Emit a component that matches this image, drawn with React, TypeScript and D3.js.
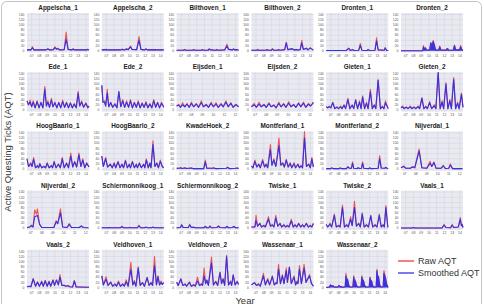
import * as d3 from "d3";

// [year, raw AQT, smoothed AQT]
type Pt = [number, number, number];

const appelscha1: Pt[] = [[2006.4,3,3],[2006.9,3,3],[2007.1,15,11],[2007.3,3,3],[2008.8,3,3],[2009.1,8,7],[2009.3,3,3],[2009.8,4,4],[2010.0,15,12],[2010.2,6,6],[2010.4,10,8],[2010.6,3,3],[2011.2,4,4],[2011.45,72,45],[2011.7,5,5],[2012.2,3,3],[2012.35,8,6],[2012.5,3,3],[2013.4,3,3],[2013.5,5,4],[2013.7,3,3],[2014.1,3,3],[2014.2,6,5],[2014.4,3,3]];
const appelscha2: Pt[] = [[2006.4,3,3],[2007.0,5,4],[2007.2,3,3],[2008.8,3,3],[2009.0,6,5],[2009.3,3,3],[2009.6,8,6],[2009.8,4,4],[2010.1,18,15],[2010.3,5,5],[2010.9,4,4],[2011.2,55,40],[2011.45,5,5],[2011.9,3,3],[2012.1,8,6],[2012.3,3,3],[2013.3,4,4],[2013.5,3,3],[2014.4,3,3]];
const bilthoven1: Pt[] = [[2006.4,2,2],[2007.3,2,2],[2007.4,5,4],[2007.6,2,2],[2008.5,2,2],[2008.6,5,4],[2008.8,2,2],[2009.6,2,2],[2009.7,5,4],[2009.9,2,2],[2010.5,2,2],[2010.6,8,6],[2010.8,3,3],[2011.5,2,2],[2011.6,5,4],[2011.8,2,2],[2012.6,3,3],[2012.9,25,18],[2013.1,6,5],[2013.6,3,3],[2013.75,8,6],[2013.9,3,3],[2014.2,5,4],[2014.4,2,2]];
const bilthoven2: Pt[] = [[2006.4,2,2],[2007.1,2,2],[2007.2,5,4],[2007.4,2,2],[2008.3,2,2],[2008.4,5,4],[2008.6,2,2],[2009.0,2,2],[2009.1,8,6],[2009.3,2,2],[2009.8,2,2],[2009.9,5,4],[2010.1,2,2],[2010.7,4,4],[2010.9,33,30],[2011.1,4,4],[2011.7,8,7],[2011.9,3,3],[2012.2,5,4],[2012.4,3,3],[2012.7,4,4],[2012.9,40,30],[2013.1,5,5],[2013.5,10,9],[2013.7,3,3],[2014.0,12,10],[2014.3,4,4],[2014.4,3,3]];
const dronten1: Pt[] = [[2006.4,1,1],[2009.0,1,1],[2009.3,10,9],[2009.5,1,1],[2009.8,5,4],[2010.0,1,1],[2010.6,2,2],[2010.8,28,20],[2011.0,2,2],[2011.7,1,1],[2011.8,5,4],[2012.0,1,1],[2012.7,2,2],[2012.9,50,38],[2013.1,3,3],[2013.9,2,2],[2014.0,12,10],[2014.2,1,1],[2014.4,1,1]];
const dronten2: Pt[] = [[2006.4,0,0],[2009.2,0,0],[2009.3,20,15],[2009.45,3,3],[2009.55,12,10],[2009.7,2,2],[2010.1,3,3],[2010.25,32,30],[2010.4,18,15],[2010.55,40,35],[2010.7,25,22],[2010.85,3,3],[2011.25,2,2],[2011.4,18,15],[2011.55,3,3],[2012.2,2,2],[2012.3,8,6],[2012.45,8,6],[2012.55,2,2],[2013.15,2,2],[2013.3,22,20],[2013.45,3,3],[2013.95,3,3],[2014.1,20,15],[2014.25,4,4],[2014.4,2,2]];
const ede1: Pt[] = [[2006.4,35,35],[2006.6,20,20],[2006.8,38,30],[2007.0,12,12],[2007.2,35,30],[2007.45,8,8],[2007.7,35,32],[2007.95,8,8],[2008.2,30,28],[2008.45,8,8],[2008.7,90,80],[2008.9,15,15],[2009.1,35,30],[2009.3,10,10],[2009.55,45,38],[2009.75,12,12],[2010.0,30,28],[2010.25,8,8],[2010.5,30,28],[2010.75,8,8],[2011.0,38,32],[2011.25,10,10],[2011.5,30,28],[2011.75,8,8],[2012.0,28,26],[2012.25,8,8],[2012.5,25,22],[2012.75,8,8],[2013.0,72,65],[2013.2,15,15],[2013.45,35,30],[2013.7,10,10],[2014.0,28,25],[2014.25,8,8],[2014.4,15,15]];
const ede2: Pt[] = [[2006.4,95,95],[2006.55,30,30],[2006.75,35,30],[2006.9,15,15],[2007.1,80,65],[2007.3,12,12],[2007.55,30,28],[2007.8,10,10],[2008.1,25,22],[2008.35,8,8],[2008.6,72,70],[2008.85,12,12],[2009.1,40,35],[2009.35,10,10],[2009.6,35,30],[2009.85,10,10],[2010.1,40,35],[2010.35,8,8],[2010.6,30,28],[2010.85,10,10],[2011.1,35,30],[2011.35,8,8],[2011.6,28,25],[2011.85,10,10],[2012.1,32,28],[2012.35,8,8],[2012.6,25,22],[2012.85,8,8],[2013.1,40,35],[2013.35,10,10],[2013.6,30,28],[2013.85,8,8],[2014.1,30,25],[2014.4,10,10]];
const eijsden1: Pt[] = [[2006.65,15,15],[2006.85,22,18],[2007.0,10,10],[2007.2,28,20],[2007.4,12,12],[2007.6,25,22],[2007.8,10,10],[2008.0,30,25],[2008.2,12,12],[2008.45,25,22],[2008.65,10,10],[2008.9,35,28],[2009.1,12,12],[2009.35,22,20],[2009.55,10,10],[2009.8,30,25],[2010.0,12,12],[2010.25,28,22],[2010.45,10,10],[2010.7,25,22],[2010.9,12,12],[2011.15,35,30],[2011.35,12,12],[2011.6,28,25],[2011.8,10,10],[2012.05,22,20],[2012.3,12,12]];
const eijsden2: Pt[] = [[2006.65,12,12],[2006.9,25,20],[2007.1,10,10],[2007.35,30,22],[2007.55,12,12],[2007.8,22,20],[2008.0,10,10],[2008.25,28,24],[2008.45,12,12],[2008.7,20,18],[2008.9,8,8],[2009.15,30,25],[2009.35,12,12],[2009.6,25,22],[2009.8,10,10],[2010.05,32,26],[2010.25,12,12],[2010.5,22,20],[2010.7,10,10],[2010.95,28,25],[2011.15,12,12],[2011.4,30,26],[2011.6,10,10],[2011.85,25,22],[2012.05,15,15],[2012.3,30,28]];
const gieten1: Pt[] = [[2006.4,12,12],[2006.6,8,8],[2006.8,15,12],[2007.0,8,8],[2007.25,30,28],[2007.5,5,5],[2007.8,12,10],[2008.0,5,5],[2008.25,15,12],[2008.45,5,5],[2008.7,20,18],[2008.9,5,5],[2009.2,45,40],[2009.45,5,5],[2009.75,20,18],[2009.95,5,5],[2010.2,40,38],[2010.45,5,5],[2010.7,35,30],[2010.9,5,5],[2011.1,55,50],[2011.35,5,5],[2011.6,30,25],[2011.8,5,5],[2012.1,80,70],[2012.35,5,5],[2012.6,20,18],[2012.8,5,5],[2013.1,118,115],[2013.4,5,5],[2013.65,15,12],[2013.85,5,5],[2014.05,35,28],[2014.25,15,15],[2014.4,5,5]];
const gieten2: Pt[] = [[2006.4,8,8],[2006.6,15,12],[2006.8,5,5],[2007.1,12,10],[2007.3,5,5],[2007.6,15,12],[2007.8,5,5],[2008.1,12,10],[2008.3,5,5],[2008.6,15,12],[2008.8,5,5],[2009.1,48,45],[2009.35,5,5],[2009.6,15,12],[2009.8,5,5],[2010.1,32,28],[2010.35,5,5],[2010.7,20,15],[2010.9,5,5],[2011.2,145,145],[2011.45,5,5],[2011.7,35,30],[2011.9,5,5],[2012.2,105,100],[2012.45,5,5],[2012.7,40,35],[2012.9,5,5],[2013.2,125,118],[2013.45,5,5],[2013.7,30,25],[2013.9,5,5],[2014.2,65,60],[2014.4,10,10]];
const hoogBaarlo1: Pt[] = [[2006.4,40,40],[2006.6,10,10],[2006.9,25,20],[2007.05,10,10],[2007.25,45,38],[2007.5,5,5],[2007.75,15,12],[2007.9,5,5],[2008.05,22,20],[2008.3,5,5],[2008.6,12,10],[2008.8,5,5],[2009.0,25,22],[2009.25,5,5],[2009.55,15,12],[2009.7,5,5],[2009.9,30,28],[2010.15,5,5],[2010.45,20,18],[2010.7,5,5],[2010.95,45,40],[2011.2,5,5],[2011.5,25,22],[2011.75,5,5],[2012.05,62,50],[2012.3,8,8],[2012.55,30,28],[2012.8,8,8],[2013.1,62,55],[2013.35,10,10],[2013.6,40,35],[2013.85,5,5],[2014.1,25,22],[2014.4,8,8]];
const hoogBaarlo2: Pt[] = [[2006.4,50,50],[2006.6,10,10],[2006.9,45,40],[2007.15,8,8],[2007.5,20,18],[2007.75,5,5],[2008.0,25,22],[2008.2,5,5],[2008.5,30,28],[2008.75,5,5],[2009.0,20,18],[2009.2,5,5],[2009.45,35,32],[2009.7,5,5],[2009.95,20,18],[2010.1,5,5],[2010.35,30,28],[2010.6,5,5],[2010.85,20,18],[2011.0,5,5],[2011.25,25,22],[2011.5,5,5],[2011.8,20,18],[2011.95,5,5],[2012.15,40,35],[2012.4,5,5],[2012.6,25,22],[2012.75,5,5],[2013.0,110,95],[2013.25,10,10],[2013.5,25,22],[2013.7,5,5],[2013.95,35,30],[2014.2,10,10],[2014.4,5,5]];
const kwadeHoek2: Pt[] = [[2006.4,3,3],[2006.8,3,3],[2006.9,6,5],[2007.1,2,2],[2007.5,5,4],[2007.7,2,2],[2008.3,4,4],[2008.5,2,2],[2009.9,2,2],[2010.1,35,28],[2010.3,3,3],[2011.0,3,3],[2011.2,5,4],[2011.4,2,2],[2012.8,3,3],[2013.0,8,6],[2013.2,2,2],[2014.0,3,3],[2014.2,4,4],[2014.4,2,2]];
const montferland1: Pt[] = [[2006.4,12,12],[2006.6,5,5],[2006.85,35,30],[2007.1,8,8],[2007.35,20,18],[2007.55,5,5],[2007.85,38,32],[2008.1,8,8],[2008.3,20,18],[2008.5,5,5],[2008.85,95,75],[2009.05,15,15],[2009.3,40,35],[2009.55,10,10],[2009.75,55,48],[2009.95,120,90],[2010.2,15,15],[2010.45,25,22],[2010.65,8,8],[2010.9,38,35],[2011.15,8,8],[2011.4,25,22],[2011.6,5,5],[2011.9,25,20],[2012.1,5,5],[2012.4,20,18],[2012.6,5,5],[2012.8,15,12],[2013.0,5,5],[2013.25,145,120],[2013.5,10,10],[2013.8,20,18],[2014.0,5,5],[2014.2,45,40],[2014.4,8,8]];
const montferland2: Pt[] = [[2006.4,2,2],[2007.0,2,2],[2007.1,5,4],[2007.3,2,2],[2008.1,2,2],[2008.2,4,4],[2008.4,2,2],[2009.0,2,2],[2009.2,10,8],[2009.4,3,3],[2009.65,3,3],[2009.8,28,22],[2009.95,3,3],[2010.4,2,2],[2010.5,6,5],[2010.7,2,2],[2010.95,3,3],[2011.1,28,22],[2011.25,3,3],[2011.9,2,2],[2012.0,5,4],[2012.2,2,2],[2013.1,3,3],[2013.3,52,40],[2013.5,4,4],[2013.95,3,3],[2014.1,8,6],[2014.25,3,3],[2014.4,2,2]];
const nijverdal1: Pt[] = [[2006.65,5,5],[2006.9,12,10],[2007.1,3,3],[2007.5,3,3],[2007.7,10,8],[2007.9,5,5],[2008.3,78,70],[2008.55,5,5],[2009.0,3,3],[2009.3,30,22],[2009.45,10,10],[2009.65,28,25],[2009.85,3,3],[2010.3,3,3],[2010.5,15,12],[2010.7,2,2],[2011.0,3,3],[2011.15,20,15],[2011.35,2,2],[2012.25,2,2]];
const nijverdal2: Pt[] = [[2006.65,3,3],[2006.9,5,5],[2007.05,12,10],[2007.2,5,5],[2007.35,72,45],[2007.5,55,48],[2007.6,75,50],[2007.8,15,15],[2008.0,3,3],[2009.1,3,3],[2009.3,30,25],[2009.45,18,18],[2009.7,75,60],[2009.9,5,5],[2010.3,3,3],[2010.5,18,15],[2010.7,3,3],[2011.4,3,3],[2011.6,10,8],[2011.8,3,3],[2012.25,2,2]];
const schiermonnikoog1: Pt[] = [[2006.4,2,2],[2007.2,2,2],[2007.35,3,3],[2007.5,2,2],[2008.8,2,2],[2009.0,8,6],[2009.2,2,2],[2009.9,2,2],[2010.0,4,3],[2010.2,2,2],[2011.0,2,2],[2011.2,12,10],[2011.4,2,2],[2011.9,2,2],[2012.1,5,4],[2012.3,2,2],[2012.8,2,2],[2013.0,5,4],[2013.2,2,2],[2014.4,2,2]];
const schiermonnikoog2: Pt[] = [[2006.4,2,2],[2006.9,3,3],[2007.05,15,13],[2007.25,3,3],[2007.9,3,3],[2008.1,15,13],[2008.3,3,3],[2008.6,5,4],[2008.8,2,2],[2009.9,2,2],[2010.1,8,7],[2010.3,2,2],[2010.55,2,2],[2010.7,10,8],[2010.9,2,2],[2011.6,3,3],[2011.8,10,8],[2012.0,3,3],[2012.7,2,2],[2012.9,8,7],[2013.1,2,2],[2013.6,3,3],[2013.8,8,7],[2014.0,2,2],[2014.4,2,2]];
const twiske1: Pt[] = [[2006.4,5,5],[2006.85,5,5],[2007.0,50,30],[2007.2,8,8],[2007.5,20,18],[2007.7,5,5],[2008.0,12,10],[2008.2,5,5],[2008.6,45,35],[2008.85,8,8],[2009.1,15,12],[2009.3,5,5],[2009.55,50,40],[2009.8,8,8],[2010.1,20,18],[2010.3,5,5],[2010.6,15,12],[2010.8,5,5],[2011.05,12,10],[2011.25,5,5],[2011.55,35,28],[2011.8,5,5],[2012.05,15,12],[2012.25,5,5],[2012.5,20,18],[2012.75,5,5],[2013.0,15,12],[2013.2,5,5],[2013.5,20,18],[2013.75,5,5],[2014.0,12,10],[2014.2,5,5],[2014.4,20,18]];
const twiske2: Pt[] = [[2006.4,15,15],[2006.6,5,5],[2006.9,20,15],[2007.1,5,5],[2007.45,55,50],[2007.7,5,5],[2008.0,12,10],[2008.2,5,5],[2008.5,90,80],[2008.75,5,5],[2009.05,15,12],[2009.25,5,5],[2009.55,45,35],[2009.75,10,10],[2010.05,105,80],[2010.3,8,8],[2010.6,20,18],[2010.8,5,5],[2011.05,60,55],[2011.3,5,5],[2011.6,15,12],[2011.85,5,5],[2012.15,50,48],[2012.4,5,5],[2012.7,15,12],[2012.95,5,5],[2013.25,55,50],[2013.5,5,5],[2013.75,15,12],[2013.9,5,5],[2014.1,88,80],[2014.35,5,5],[2014.4,5,5]];
const vaals1: Pt[] = [[2006.4,1,1],[2007.8,1,1],[2008.0,3,3],[2008.2,1,1],[2011.7,1,1],[2011.95,15,12],[2012.2,3,3],[2012.8,2,2],[2013.0,15,12],[2013.2,3,3],[2013.8,5,5],[2014.05,42,35],[2014.2,10,10],[2014.3,15,14],[2014.4,3,3]];
const vaals2: Pt[] = [[2006.4,3,3],[2006.7,5,5],[2006.9,3,3],[2007.2,35,33],[2007.5,5,5],[2007.75,22,20],[2008.0,5,5],[2008.3,25,22],[2008.5,5,5],[2008.75,28,25],[2009.0,5,5],[2009.25,25,22],[2009.45,5,5],[2009.75,30,28],[2009.95,8,8],[2010.2,30,28],[2010.45,10,10],[2010.65,50,40],[2010.9,8,8],[2011.2,10,8],[2011.4,5,5],[2011.7,8,7],[2011.9,3,3],[2012.3,2,2],[2012.5,28,25],[2012.75,2,2],[2013.0,2,2],[2014.4,1,1]];
const veldhoven1: Pt[] = [[2006.4,45,45],[2006.6,10,10],[2006.95,42,32],[2007.2,8,8],[2007.55,22,20],[2007.8,5,5],[2008.1,15,12],[2008.3,5,5],[2008.55,25,20],[2008.8,5,5],[2009.1,15,12],[2009.3,5,5],[2009.55,30,22],[2009.8,5,5],[2010.15,98,70],[2010.4,10,10],[2010.6,28,22],[2010.8,5,5],[2011.1,80,75],[2011.35,8,8],[2011.65,20,18],[2011.9,5,5],[2012.25,40,38],[2012.5,8,8],[2012.75,20,18],[2012.95,8,8],[2013.2,120,85],[2013.45,10,10],[2013.65,45,42],[2013.85,10,10],[2014.05,25,20],[2014.2,12,12],[2014.4,20,18]];
const veldhoven2: Pt[] = [[2006.4,20,20],[2006.6,8,8],[2006.95,35,32],[2007.2,8,8],[2007.5,15,12],[2007.7,5,5],[2008.05,22,20],[2008.3,5,5],[2008.6,12,10],[2008.8,5,5],[2009.1,40,25],[2009.35,8,8],[2009.6,15,12],[2009.75,8,8],[2009.95,75,45],[2010.15,15,15],[2010.3,30,28],[2010.5,8,8],[2010.9,118,95],[2011.15,10,10],[2011.45,25,22],[2011.7,8,8],[2012.0,60,58],[2012.2,15,15],[2012.4,35,32],[2012.6,8,8],[2012.85,125,120],[2013.1,10,10],[2013.35,25,22],[2013.5,8,8],[2013.7,50,48],[2013.95,10,10],[2014.2,25,22],[2014.4,12,12]];
const wassenaar1: Pt[] = [[2006.4,10,10],[2006.8,20,18],[2007.05,8,8],[2007.3,15,12],[2007.55,5,5],[2007.95,55,45],[2008.2,10,10],[2008.5,35,30],[2008.75,10,10],[2009.1,45,42],[2009.35,10,10],[2009.6,20,18],[2009.7,15,15],[2009.9,90,70],[2010.15,15,15],[2010.4,50,45],[2010.6,15,15],[2010.9,75,65],[2011.05,20,20],[2011.3,80,78],[2011.55,15,15],[2011.9,45,40],[2012.1,10,10],[2012.3,25,22],[2012.4,15,15],[2012.6,85,70],[2012.85,15,15],[2013.2,90,75],[2013.45,20,20],[2013.9,50,45],[2014.15,15,15],[2014.3,10,10],[2014.4,5,5]];
const wassenaar2: Pt[] = [[2006.4,0,0],[2006.8,2,2],[2006.95,10,10],[2007.1,5,5],[2007.25,8,6],[2007.45,2,2],[2007.9,2,2],[2008.05,8,7],[2008.2,3,3],[2008.3,5,4],[2008.45,1,1],[2008.85,3,3],[2008.95,55,45],[2009.05,25,22],[2009.15,35,30],[2009.3,12,10],[2009.45,2,2],[2009.85,3,3],[2009.95,45,40],[2010.05,25,22],[2010.15,30,25],[2010.3,10,8],[2010.45,2,2],[2010.9,3,3],[2011.0,45,40],[2011.1,28,25],[2011.2,30,26],[2011.35,10,8],[2011.5,2,2],[2011.95,3,3],[2012.05,40,38],[2012.15,25,22],[2012.25,28,25],[2012.4,8,6],[2012.55,2,2],[2012.85,3,3],[2012.95,70,65],[2013.05,40,38],[2013.15,45,40],[2013.3,12,10],[2013.45,2,2],[2013.75,3,3],[2013.85,65,55],[2013.95,50,45],[2014.05,40,35],[2014.2,15,12],[2014.35,3,3],[2014.4,1,1]];

const longYears = [2007, 2008, 2009, 2010, 2011, 2012, 2013, 2014];
const shortYears = [2007, 2008, 2009, 2010, 2011, 2012];
const yTicks = [0, 20, 40, 60, 80, 100, 120, 140];

type Panel = { name: string; data: Pt[]; short?: boolean; filled?: boolean };

const panels: Panel[] = [
  { name: "Appelscha_1", data: appelscha1 },
  { name: "Appelscha_2", data: appelscha2 },
  { name: "Bilthoven_1", data: bilthoven1 },
  { name: "Bilthoven_2", data: bilthoven2 },
  { name: "Dronten_1", data: dronten1 },
  { name: "Dronten_2", data: dronten2, filled: true },
  { name: "Ede_1", data: ede1 },
  { name: "Ede_2", data: ede2 },
  { name: "Eijsden_1", data: eijsden1, short: true },
  { name: "Eijsden_2", data: eijsden2, short: true },
  { name: "Gieten_1", data: gieten1 },
  { name: "Gieten_2", data: gieten2 },
  { name: "HoogBaarlo_1", data: hoogBaarlo1 },
  { name: "HoogBaarlo_2", data: hoogBaarlo2 },
  { name: "KwadeHoek_2", data: kwadeHoek2 },
  { name: "Montferland_1", data: montferland1 },
  { name: "Montferland_2", data: montferland2 },
  { name: "Nijverdal_1", data: nijverdal1, short: true },
  { name: "Nijverdal_2", data: nijverdal2, short: true },
  { name: "Schiermonnikoog_1", data: schiermonnikoog1 },
  { name: "Schiermonnikoog_2", data: schiermonnikoog2 },
  { name: "Twiske_1", data: twiske1 },
  { name: "Twiske_2", data: twiske2 },
  { name: "Vaals_1", data: vaals1 },
  { name: "Vaals_2", data: vaals2 },
  { name: "Veldhoven_1", data: veldhoven1 },
  { name: "Veldhoven_2", data: veldhoven2 },
  { name: "Wassenaar_1", data: wassenaar1 },
  { name: "Wassenaar_2", data: wassenaar2, filled: true },
];

const W = 484;
const H = 304;
const RED = "#f03a3a";
const BLUE = "#3232e6";
const FONT = "'Liberation Sans', Arial, sans-serif";

const colX = d3.scaleLinear().domain([0, 1]).range([27, 101.8]);
const rowY = d3.scaleLinear().domain([0, 1]).range([13, 72.2]);
const pw = 62;
const ph = 39.5;

function PanelChart({ p, i }: { p: Panel; i: number }) {
  const left = colX(i % 6);
  const top = rowY(Math.floor(i / 6));
  const years = p.short ? shortYears : longYears;
  const x = d3
    .scaleLinear()
    .domain(p.short ? [2006.65, 2012.3] : [2006.4, 2014.4])
    .range([left, left + pw]);
  const y = d3.scaleLinear().domain([-7, 146]).range([top + ph, top]);

  const raw = d3.line<Pt>().x((d) => x(d[0])).y((d) => y(d[1]));
  const smooth = d3.line<Pt>().x((d) => x(d[0])).y((d) => y(d[2]));
  const area = d3
    .area<Pt>()
    .x((d) => x(d[0]))
    .y0(y(0))
    .y1((d) => y(d[2]));

  return (
    <g>
      <rect x={left} y={top} width={pw} height={ph} fill="#e9e9f1" />
      {yTicks.map((t) => (
        <line key={"h" + t} x1={left} x2={left + pw} y1={y(t)} y2={y(t)} stroke="#d2d2de" strokeWidth={0.5} />
      ))}
      {years.map((t) => (
        <line key={"v" + t} x1={x(t)} x2={x(t)} y1={top} y2={top + ph} stroke="#d2d2de" strokeWidth={0.5} />
      ))}
      {yTicks.map((t) => (
        <text key={"yl" + t} x={left - 2.5} y={y(t) + 1.2} fontSize={3.4} textAnchor="end" fill="#555">
          {t}
        </text>
      ))}
      {years.map((t) => (
        <text key={"xl" + t} x={x(t)} y={top + ph + 4.3} fontSize={3.4} textAnchor="middle" fill="#555">
          {String(t).slice(2)}
        </text>
      ))}
      <text x={left + pw / 2} y={top - 3} fontSize={6.4} fontWeight="bold" textAnchor="middle" fill="#222">
        {p.name}
      </text>
      {p.filled && <path d={area(p.data) || ""} fill={BLUE} />}
      <path d={raw(p.data) || ""} fill="none" stroke={RED} strokeWidth={1.1} strokeLinejoin="round" opacity={0.85} />
      <path d={smooth(p.data) || ""} fill="none" stroke={BLUE} strokeWidth={1.1} strokeLinejoin="round" />
    </g>
  );
}

export default function App() {
  return (
    <svg
      width={W}
      height={H}
      style={{ position: "absolute", left: 0, top: 0, fontFamily: FONT }}
    >
      <rect x={0} y={0} width={W} height={H} fill="#fff" />
      <rect x={1.5} y={1.5} width={480} height={320} rx={5} fill="none" stroke="#c4c4c4" strokeWidth={1} />
      {panels.map((p, i) => (
        <PanelChart key={p.name} p={p} i={i} />
      ))}
      <text
        transform="translate(11,152) rotate(-90)"
        fontSize={9.5}
        textAnchor="middle"
        fill="#333"
      >
        Active Questing Ticks (AQT)
      </text>
      <text x={245} y={303.5} fontSize={9.5} textAnchor="middle" fill="#333">
        Year
      </text>
      <line x1={398} x2={414} y1={261} y2={261} stroke={RED} strokeWidth={1.3} />
      <text x={418} y={264} fontSize={9} fill="#333">
        Raw AQT
      </text>
      <line x1={398} x2={414} y1={273} y2={273} stroke={BLUE} strokeWidth={1.3} />
      <text x={418} y={276} fontSize={9} fill="#333">
        Smoothed AQT
      </text>
    </svg>
  );
}
